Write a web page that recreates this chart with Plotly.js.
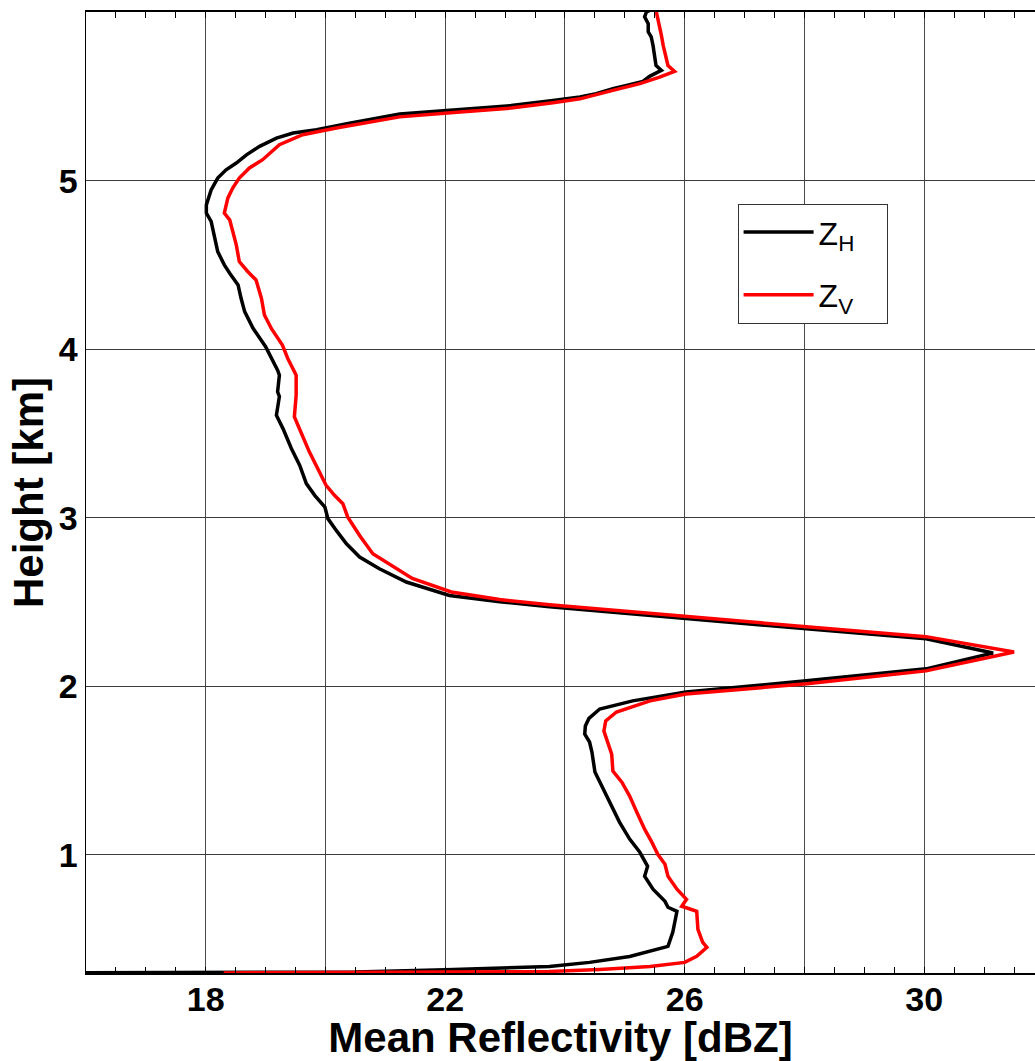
<!DOCTYPE html>
<html>
<head>
<meta charset="utf-8">
<script src="https://cdn.plot.ly/plotly-3.0.1.min.js"></script>
<style>html,body{margin:0;padding:0;background:#fff;}#chart{width:1035px;height:1061px;}</style>
</head>
<body>
<div id="chart"></div>
<script>
// Z_H (black) profile: reflectivity [dBZ] vs height [km]
const zhDbz = [15.0,19.0,20.5,22.0,23.74,24.41,25.08,25.72,25.80,25.87,25.72,25.67,25.47,25.33,25.38,25.25,25.08,24.91,24.78,24.63,24.50,24.45,24.41,24.33,24.34,24.40,24.58,25.13,26.02,28.03,30.03,31.15,30.03,28.03,26.02,23.74,22.91,22.07,21.35,20.90,20.57,20.35,20.18,20.04,19.99,19.82,19.68,19.57,19.43,19.29,19.18,19.23,19.20,19.23,19.20,19.07,19.00,18.79,18.65,18.59,18.54,18.40,18.31,18.20,18.15,18.09,18.01,18.01,18.09,18.20,18.34,18.51,18.68,18.90,19.18,19.46,19.85,20.40,21.24,22.20,23.10,23.80,24.25,24.52,24.80,25.08,25.30,25.42,25.55,25.61,25.52,25.50,25.47,25.44,25.39,25.39,25.33,25.36,25.42];
const zhHeight = [0.300,0.302,0.306,0.320,0.339,0.363,0.398,0.458,0.541,0.666,0.690,0.725,0.797,0.874,0.933,1.016,1.094,1.195,1.290,1.409,1.492,1.611,1.670,1.717,1.765,1.810,1.866,1.914,1.967,2.033,2.104,2.198,2.283,2.342,2.401,2.472,2.502,2.539,2.619,2.698,2.767,2.846,2.925,2.995,3.064,3.133,3.203,3.311,3.411,3.529,3.608,3.720,3.747,3.846,3.876,3.965,4.015,4.124,4.223,4.302,4.381,4.451,4.500,4.579,4.658,4.758,4.807,4.856,4.945,5.015,5.064,5.104,5.153,5.203,5.252,5.282,5.302,5.341,5.395,5.420,5.445,5.475,5.496,5.515,5.545,5.569,5.588,5.620,5.644,5.654,5.683,5.743,5.802,5.852,5.882,5.931,5.971,6.000,6.010];

// Z_V (red) profile
const zvDbz = [18.3,20.5,23.74,24.58,25.42,26.00,26.20,26.37,26.30,26.22,26.20,25.95,26.03,25.87,25.72,25.67,25.55,25.45,25.33,25.20,25.08,24.95,24.80,24.78,24.71,24.65,24.68,24.86,25.42,26.02,28.04,30.03,31.50,30.03,28.03,26.02,23.74,22.91,22.10,21.45,21.02,20.79,20.57,20.37,20.29,20.15,20.01,19.93,19.73,19.54,19.48,19.51,19.51,19.37,19.28,19.10,18.98,18.93,18.84,18.70,18.56,18.51,18.45,18.40,18.31,18.37,18.45,18.56,18.73,18.95,19.23,19.62,20.18,20.68,21.24,22.20,23.10,23.80,24.25,24.80,25.25,25.58,25.75,25.83,25.72,25.69,25.64,25.61,25.58,25.55,25.52];
const zvHeight = [0.300,0.302,0.309,0.321,0.339,0.363,0.399,0.452,0.482,0.559,0.666,0.696,0.737,0.797,0.874,0.945,1.004,1.076,1.153,1.254,1.349,1.432,1.497,1.598,1.670,1.735,1.795,1.848,1.914,1.955,2.015,2.092,2.204,2.295,2.354,2.413,2.484,2.515,2.560,2.640,2.737,2.787,2.895,3.005,3.084,3.133,3.193,3.252,3.391,3.549,3.599,3.727,3.846,3.945,4.024,4.120,4.203,4.302,4.411,4.461,4.520,4.619,4.698,4.767,4.807,4.897,4.956,5.015,5.075,5.124,5.213,5.272,5.312,5.341,5.378,5.405,5.430,5.462,5.485,5.535,5.575,5.614,5.634,5.648,5.683,5.723,5.802,5.862,5.921,5.971,6.010];

const xTickVals = [18,20,22,24,26,28,30];
const xTickText = ['18','','22','','26','','30'];
const yTickVals = [1,2,3,4,5];
const yTickText = ['1','2','3','4','5'];

const FONT = '"Liberation Sans", Arial, Helvetica, sans-serif';

const traces = [
  {x: zhDbz, y: zhHeight, type: 'scatter', mode: 'lines', name: 'Z<sub>H</sub>&nbsp;&nbsp;&nbsp;',
   legendgroup: 'h', line: {color: '#000000', width: 3.5}},
  {x: zvDbz, y: zvHeight, type: 'scatter', mode: 'lines', name: 'Z<sub>V</sub>&nbsp;&nbsp;&nbsp;',
   legendgroup: 'v', line: {color: '#ff0000', width: 3.5}}
];

const layout = {
  width: 1035, height: 1061,
  margin: {l: 86, r: 0, t: 12, b: 88},
  paper_bgcolor: '#ffffff', plot_bgcolor: '#ffffff',
  font: {family: FONT, color: '#000000'},
  showlegend: true,
  legend: {
    x: 0.6866, y: 0.8004, xanchor: 'left', yanchor: 'top',
    bgcolor: '#ffffff', bordercolor: '#333333', borderwidth: 1,
    font: {family: FONT, size: 32, color: '#000000'},
    traceorder: 'grouped', tracegroupgap: 18, itemwidth: 70
  },
  xaxis: {
    range: [16, 31.85], autorange: false,
    tickmode: 'array', tickvals: xTickVals, ticktext: xTickText,
    ticks: 'inside', ticklen: 0, tickcolor: '#000',
    ticklabelstandoff: -5,
    showgrid: true, gridcolor: '#4a4a4a', gridwidth: 1,
    showline: true, linecolor: '#000000', linewidth: 2, mirror: 'ticks',
    zeroline: false,
    tickfont: {family: FONT, size: 34, color: '#000', weight: 'bold'},
    minor: {tickmode: 'linear', tick0: 16, dtick: 0.5, ticks: 'inside', ticklen: 6, tickcolor: '#000', tickwidth: 1, showgrid: false},
    title: {text: '<b>Mean Reflectivity [dBZ]</b>', font: {family: FONT, size: 42, color: '#000'}, standoff: 6}
  },
  yaxis: {
    range: [0.3, 6.0], autorange: false,
    tickmode: 'array', tickvals: yTickVals, ticktext: yTickText,
    ticks: 'inside', ticklen: 0,
    showgrid: true, gridcolor: '#3a3a3a', gridwidth: 1,
    showline: true, linecolor: '#000000', linewidth: 1.5, mirror: true,
    zeroline: false,
    tickfont: {family: FONT, size: 34, color: '#000', weight: 'bold'},
    title: {text: '<b>Height [km]</b>', font: {family: FONT, size: 42, color: '#000'}, standoff: 2}
  }
};

Plotly.newPlot('chart', traces, layout, {displayModeBar: false, staticPlot: true});
</script>
</body>
</html>
